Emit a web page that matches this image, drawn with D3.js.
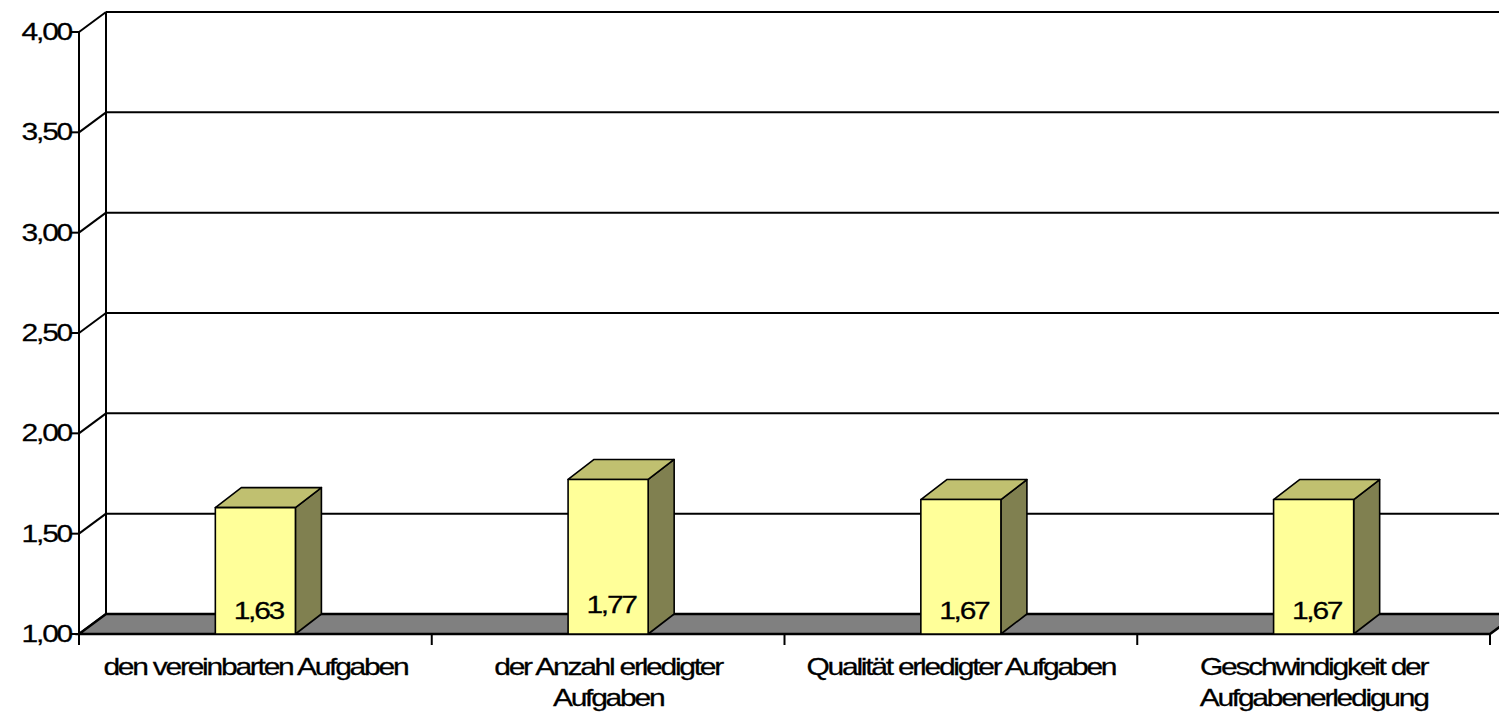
<!DOCTYPE html>
<html><head><meta charset="utf-8">
<script src="https://cdn.jsdelivr.net/npm/d3@7"></script>
<style>html,body{margin:0;padding:0;background:#fff;overflow:hidden}</style>
</head><body>
<svg id="chart" width="1499" height="715"></svg>
<script>
const categories = [
  ["den vereinbarten Aufgaben"],
  ["der Anzahl erledigter", "Aufgaben"],
  ["Qualität erledigter Aufgaben"],
  ["Geschwindigkeit der", "Aufgabenerledigung"]
];
const values = [1.63, 1.77, 1.67, 1.67];
const valueLabels = ["1,63", "1,77", "1,67", "1,67"];
const tickValues = [1.0, 1.5, 2.0, 2.5, 3.0, 3.5, 4.0];
const tickLabels = ["1,00", "1,50", "2,00", "2,50", "3,00", "3,50", "4,00"];

const svg = d3.select("#chart");
const DX = 27, DY = -20;          // depth offset of the 3D walls
const BDX = 26, BDY = -20;        // depth offset of the bars
const SX = 1.25;                  // horizontal stretch of text
const FS = 24;
const LS = "-1.8px";
const FONT = "'Liberation Sans', Arial, sans-serif";

const keys = categories.map((c, i) => i);
const x = d3.scaleBand().domain(keys).range([79, 1490]).paddingInner(0).paddingOuter(0);
const y = d3.scaleLinear().domain([1, 4]).range([634, 32]);
const barW = x.bandwidth() * 0.227;

function txt(s, tx, ty, anchor) {
  return svg.append("text").attr("font-family", FONT).attr("font-size", FS)
    .attr("letter-spacing", LS).attr("text-anchor", anchor).attr("fill", "#000")
    .attr("stroke", "#000").attr("stroke-width", 0.25)
    .attr("transform", `translate(${tx},${ty}) scale(${SX},1)`)
    .text(s);
}

// back wall gridlines
const back = svg.append("g").attr("stroke", "#000").attr("stroke-width", 2).attr("fill", "none");
tickValues.forEach(v => {
  if (v > 1) {
    back.append("line").attr("x1", x.range()[0] + DX).attr("x2", 1600)
      .attr("y1", y(v) + DY).attr("y2", y(v) + DY);
  }
  back.append("line").attr("x1", x.range()[0]).attr("x2", x.range()[0] + DX)
    .attr("y1", y(v)).attr("y2", y(v) + DY);
});
back.append("line").attr("x1", x.range()[0] + DX).attr("x2", x.range()[0] + DX)
  .attr("y1", y(4) + DY).attr("y2", y(1) + DY);

// floor
const x0 = x.range()[0], x1 = x.range()[1];
svg.append("polygon")
  .attr("points", [[x0, y(1)], [x1, y(1)], [x1 + DX, y(1) + DY], [x0 + DX, y(1) + DY]].map(p => p.join(",")).join(" "))
  .attr("fill", "#808080").attr("stroke", "#000").attr("stroke-width", 2.5).attr("stroke-linejoin", "miter");

// bars
const bars = svg.append("g").attr("stroke", "#000").attr("stroke-width", 1.6).attr("stroke-linejoin", "round");
values.forEach((v, i) => {
  const cx = x(i) + x.bandwidth() / 2;
  const l = cx - barW / 2, r = cx + barW / 2, t = y(v), b = y(1);
  bars.append("polygon").attr("fill", "#808050")
    .attr("points", [[r, t], [r + BDX, t + BDY], [r + BDX, b + BDY], [r, b]].map(p => p.join(",")).join(" "));
  bars.append("polygon").attr("fill", "#C0C070")
    .attr("points", [[l, t], [l + BDX, t + BDY], [r + BDX, t + BDY], [r, t]].map(p => p.join(",")).join(" "));
  bars.append("rect").attr("fill", "#FFFF99")
    .attr("x", l).attr("y", t).attr("width", barW).attr("height", b - t);
});
values.forEach((v, i) => {
  const cx = x(i) + x.bandwidth() / 2;
  txt(valueLabels[i], cx + 3, y(1) - 15 - (i === 1 ? 6 : 0), "middle");
});

// front value axis
const ax = svg.append("g").attr("stroke", "#000").attr("stroke-width", 2);
ax.append("line").attr("x1", x0).attr("x2", x0).attr("y1", y(4)).attr("y2", y(1) + 11);
tickValues.forEach((v, i) => {
  ax.append("line").attr("x1", x0 - 9).attr("x2", x0).attr("y1", y(v)).attr("y2", y(v));
  txt(tickLabels[i], x0 - 8, y(v) + 8, "end");
});

// category ticks
x.domain().concat([null]).forEach(k => {
  const xx = k === null ? x1 : x(k);
  ax.append("line").attr("x1", xx).attr("x2", xx).attr("y1", y(1)).attr("y2", y(1) + 11);
});

// category labels
categories.forEach((lines, i) => {
  const cx = x(i) + x.bandwidth() / 2;
  lines.forEach((ln, j) => txt(ln, cx, 675 + j * 31, "middle"));
});
</script>
</body></html>
